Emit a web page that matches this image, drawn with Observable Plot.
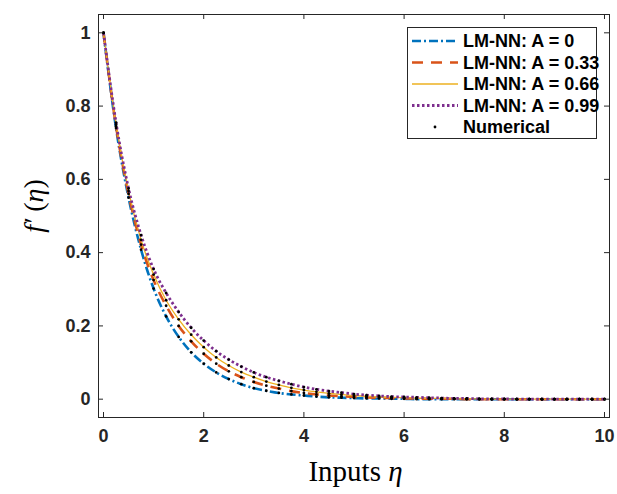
<!DOCTYPE html>
<html><head><meta charset="utf-8">
<script src="https://cdn.jsdelivr.net/npm/d3@7"></script>
<script src="https://cdn.jsdelivr.net/npm/@observablehq/plot@0.6"></script>
<style>body{margin:0;background:#fff}</style>
</head><body><div id="chart"></div>
<script>
// eta grid (inputs)
const eta = [0,0.25,0.5,0.75,1,1.25,1.5,1.75,2,2.25,2.5,2.75,3,3.25,3.5,3.75,4,4.25,4.5,4.75,5,5.25,5.5,5.75,6,6.25,6.5,6.75,7,7.25,7.5,7.75,8,8.25,8.5,8.75,9,9.25,9.5,9.75,10];
// f'(eta) for each A
const fA0   = [1,0.740,0.550,0.408,0.302,0.226,0.170,0.128,0.097,0.073,0.055,0.041,0.030,0.023,0.017,0.013,0.010,0.007,0.005,0.004,0.003,0.002,0.002,0.001,0.001,0,0,0,0,0,0,0,0,0,0,0,0,0,0,0,0];
const fA033 = [1,0.745,0.560,0.422,0.325,0.255,0.200,0.158,0.124,0.097,0.076,0.060,0.047,0.037,0.029,0.022,0.017,0.013,0.010,0.008,0.006,0.005,0.004,0.003,0.002,0.002,0.001,0.001,0.001,0,0,0,0,0,0,0,0,0,0,0,0];
const fA066 = [1,0.750,0.568,0.435,0.340,0.270,0.218,0.176,0.142,0.114,0.092,0.074,0.060,0.048,0.039,0.031,0.025,0.020,0.016,0.013,0.010,0.008,0.006,0.005,0.004,0.003,0.002,0.002,0.001,0.001,0.001,0,0,0,0,0,0,0,0,0,0];
const fA099 = [1,0.755,0.575,0.448,0.355,0.290,0.238,0.195,0.160,0.131,0.108,0.089,0.073,0.060,0.050,0.041,0.033,0.027,0.022,0.018,0.014,0.011,0.009,0.007,0.006,0.005,0.004,0.003,0.002,0.002,0.001,0.001,0.001,0,0,0,0,0,0,0,0];
const seriesNames = ["LM-NN: A = 0","LM-NN: A = 0.33","LM-NN: A = 0.66","LM-NN: A = 0.99"];
const numericalName = "Numerical";
const xTicks = [0,2,4,6,8,10];
const yTicks = [0,0.2,0.4,0.6,0.8,1];

const colors = ["#0072BD","#D95319","#EDB120","#7E2F8E"];
const dashes = ["9,3,2,3","11,8",null,"2.5,2.5"];
const widths = [2.6,2.6,1.3,2.8];

const allVals = [fA0,fA033,fA066,fA099];
const rows = [];
allVals.forEach((vals,i)=>vals.forEach((v,j)=>rows.push({s:seriesNames[i], i, eta:eta[j], f:v})));

const W=617,H=494,mL=98,mR=8,mT=14,mB=77;
const fw=W-mL-mR, fh=H-mT-mB, tk=5;
const axisColor="#262626";

const lineMarks = allVals.map((vals,i)=>Plot.line(rows.filter(r=>r.i===i),{
  x:"eta", y:"f", stroke:colors[i], strokeWidth:widths[i], strokeDasharray:dashes[i], curve:"monotone-x", strokeLinecap:"butt"
}));

const plot = Plot.plot({
  width:W, height:H, marginLeft:mL, marginRight:mR, marginTop:mT, marginBottom:mB,
  style:{fontFamily:"'Liberation Sans', Arial, sans-serif", fontSize:"18px", fontWeight:"bold", color:axisColor, background:"#fff"},
  x:{domain:[-0.1,10.1]}, y:{domain:[-0.05,1.05]},
  marks:[
    ...lineMarks,
    Plot.dot(rows,{x:"eta", y:"f", r:1.4, fill:"black", stroke:null}),
    Plot.frame({stroke:axisColor, strokeWidth:1}),
    Plot.tickX(xTicks,{x:d=>d, stroke:axisColor, insetTop:fh-tk}),
    Plot.tickX(xTicks,{x:d=>d, stroke:axisColor, insetBottom:fh-tk}),
    Plot.tickY(yTicks,{y:d=>d, stroke:axisColor, insetRight:fw-tk}),
    Plot.tickY(yTicks,{y:d=>d, stroke:axisColor, insetLeft:fw-tk}),
    Plot.axisX(xTicks,{anchor:"bottom", tickSize:0, tickPadding:12, fontSize:18, tickFormat:d=>String(d), label:null, fill:axisColor}),
    Plot.axisY(yTicks,{anchor:"left", tickSize:0, tickPadding:8, fontSize:18, tickFormat:d=>String(d), label:null, fill:axisColor})
  ]
});
document.getElementById("chart").appendChild(plot);

const svg = d3.select(plot);
// axis titles
const xt = svg.append("text").attr("x", mL+fw/2+2).attr("y", 481).attr("text-anchor","middle")
  .attr("font-family","'Liberation Serif','Times New Roman',serif").attr("font-size",29).attr("font-weight","normal").attr("fill","#000");
xt.append("tspan").text("Inputs ");
xt.append("tspan").attr("font-style","italic").text("η");
const yt = svg.append("text").attr("transform",`translate(43,206) rotate(-90)`).attr("text-anchor","middle")
  .attr("font-family","'Liberation Serif','Times New Roman',serif").attr("font-size",28).attr("font-weight","normal").attr("fill","#000");
yt.append("tspan").attr("font-style","italic").text("f′");
yt.append("tspan").text(" (");
yt.append("tspan").attr("font-style","italic").text("η");
yt.append("tspan").text(")");

// legend
const lg = svg.append("g").attr("text-anchor","start");
lg.append("rect").attr("x",407.5).attr("y",27.5).attr("width",189).attr("height",111).attr("fill","#fff").attr("stroke",axisColor).attr("stroke-width",1);
const rowY=[41,62.5,84,105.5,127];
seriesNames.forEach((name,i)=>{
  lg.append("line").attr("x1",412).attr("x2",458).attr("y1",rowY[i]).attr("y2",rowY[i])
    .attr("stroke",colors[i]).attr("stroke-width",widths[i]).attr("stroke-dasharray",dashes[i]);
  lg.append("text").attr("x",463).attr("y",rowY[i]).attr("dy","0.36em").attr("text-anchor","start").attr("font-size",18).attr("font-weight","bold").attr("fill","#000").text(name);
});
lg.append("circle").attr("cx",435).attr("cy",rowY[4]).attr("r",1.4).attr("fill","black");
lg.append("text").attr("x",463).attr("y",rowY[4]).attr("dy","0.36em").attr("text-anchor","start").attr("font-size",18).attr("font-weight","bold").attr("fill","#000").text(numericalName);
</script>
</body></html>
